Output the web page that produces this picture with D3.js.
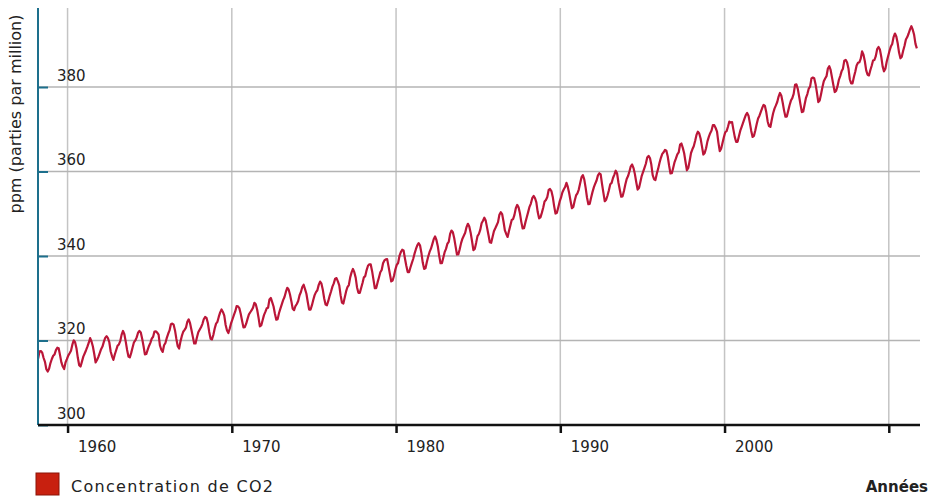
<!DOCTYPE html>
<html>
<head>
<meta charset="utf-8">
<script src="https://cdn.jsdelivr.net/npm/d3@7"></script>
<style>
  body { margin: 0; background: #fff; }
  svg text { font-family: "DejaVu Sans", Verdana, sans-serif; }
</style>
</head>
<body>
<svg id="chart" width="931" height="497"></svg>
<script>
// Mauna Loa monthly CO2 (ppm), March 1958 -> September 2011
const startYear = 1958;
const startMonth = 3;
const co2 = [
  315.71, 317.45, 317.50, 317.10, 315.86, 314.93, 313.20, 312.66, 313.33, 314.67,
  315.62, 316.38, 316.71, 317.72, 318.29, 318.15, 316.54, 314.80, 313.84, 313.26, 314.80, 315.58,
  316.43, 316.97, 317.58, 319.02, 320.03, 319.59, 318.18, 315.91, 314.16, 313.83, 315.00, 316.19,
  316.93, 317.70, 318.54, 319.48, 320.58, 319.77, 318.57, 316.79, 314.80, 315.38, 316.10, 317.01,
  317.94, 318.56, 319.68, 320.63, 321.01, 320.55, 319.58, 317.40, 316.26, 315.42, 316.69, 317.69,
  318.74, 319.08, 319.86, 321.39, 322.25, 321.47, 319.74, 317.77, 316.21, 315.99, 317.07, 318.35,
  319.57, 320.01, 320.74, 321.84, 322.26, 321.89, 320.44, 318.70, 316.70, 316.79, 317.79, 318.71,
  319.44, 320.44, 320.89, 322.13, 322.16, 321.87, 321.39, 318.81, 317.81, 317.30, 318.87, 319.42,
  320.62, 321.59, 322.39, 323.87, 324.01, 323.75, 322.39, 320.37, 318.64, 318.10, 319.79, 321.08,
  322.07, 322.50, 323.04, 324.42, 325.00, 324.09, 322.55, 320.92, 319.31, 319.31, 320.72, 321.96,
  322.57, 323.15, 323.89, 325.02, 325.57, 325.36, 324.14, 322.03, 320.41, 320.25, 321.31, 322.84,
  324.00, 324.42, 325.64, 326.66, 327.34, 326.76, 325.88, 323.67, 322.38, 321.78, 322.85, 324.11,
  325.03, 325.99, 326.87, 328.13, 328.07, 327.66, 326.35, 324.69, 323.10, 323.16, 323.98, 325.13,
  326.17, 326.68, 327.18, 327.78, 328.92, 328.57, 327.34, 325.46, 323.36, 323.57, 324.80, 326.01,
  326.77, 327.63, 327.75, 329.72, 330.07, 329.09, 328.05, 326.32, 324.93, 325.06, 326.50, 327.55,
  328.54, 329.56, 330.30, 331.50, 332.48, 332.07, 330.87, 329.31, 327.51, 327.18, 328.16, 328.64,
  329.35, 330.71, 331.48, 332.65, 333.20, 332.16, 331.07, 329.12, 327.32, 327.28, 328.30, 329.58,
  330.73, 331.46, 331.90, 333.17, 333.94, 333.45, 331.98, 329.95, 328.50, 328.34, 329.37, 330.58,
  331.59, 332.75, 333.52, 334.64, 334.77, 334.00, 333.06, 330.68, 328.95, 328.75, 330.15, 331.62,
  332.66, 333.13, 334.95, 336.13, 336.93, 336.17, 334.88, 332.56, 331.29, 331.27, 332.41, 333.60,
  334.95, 335.25, 336.66, 337.69, 338.03, 338.01, 336.41, 334.41, 332.37, 332.41, 333.75, 334.90,
  336.14, 336.69, 338.27, 338.95, 339.21, 339.26, 337.54, 335.75, 333.98, 334.19, 335.31, 336.81,
  337.90, 338.34, 340.01, 340.93, 341.48, 341.33, 339.40, 337.70, 336.19, 336.15, 337.27, 338.32,
  339.29, 340.55, 341.61, 342.53, 343.03, 342.54, 340.78, 338.44, 336.95, 337.08, 338.58, 339.88,
  340.96, 341.73, 342.81, 343.97, 344.63, 343.79, 342.32, 340.09, 338.28, 338.29, 339.60, 340.90,
  341.68, 342.90, 343.33, 345.25, 346.03, 345.63, 344.19, 342.27, 340.35, 340.38, 341.59, 343.05,
  344.10, 344.79, 345.52, 346.84, 347.63, 346.97, 345.53, 343.55, 341.40, 341.67, 343.10, 344.70,
  345.21, 346.16, 347.74, 348.34, 349.06, 348.38, 346.72, 345.02, 343.27, 343.13, 344.49, 345.88,
  346.56, 347.28, 348.01, 349.77, 350.38, 349.93, 348.16, 346.08, 345.22, 344.51, 345.93, 347.22,
  348.52, 348.73, 349.73, 351.31, 352.09, 351.53, 350.11, 348.08, 346.52, 346.59, 347.96, 349.16,
  350.39, 351.64, 352.41, 353.69, 354.21, 353.72, 352.69, 350.40, 348.92, 349.13, 350.20, 351.41,
  352.91, 353.27, 353.96, 355.64, 355.86, 355.37, 353.99, 351.81, 350.05, 350.25, 351.49, 352.85,
  353.80, 355.04, 355.73, 356.32, 357.32, 356.34, 354.84, 353.01, 351.31, 351.62, 353.07, 354.33,
  354.84, 355.73, 357.23, 358.66, 359.13, 358.13, 356.19, 353.85, 352.25, 352.35, 353.81, 355.12,
  356.25, 357.11, 357.86, 359.09, 359.59, 359.33, 357.01, 354.94, 352.96, 353.32, 354.32, 355.57,
  357.00, 357.31, 358.47, 359.27, 360.19, 359.52, 357.33, 355.64, 354.03, 354.12, 355.41, 356.91,
  358.24, 358.92, 359.99, 361.23, 361.65, 360.81, 359.38, 357.46, 355.73, 356.07, 357.53, 358.98,
  359.92, 360.86, 361.83, 363.30, 363.69, 363.19, 361.64, 359.12, 358.17, 357.99, 359.45, 360.68,
  362.07, 363.24, 364.17, 364.57, 365.13, 364.92, 363.55, 361.38, 359.54, 359.58, 360.89, 362.24,
  363.09, 364.03, 364.51, 366.35, 366.64, 365.59, 364.31, 362.25, 360.29, 360.82, 362.49, 364.38,
  365.26, 365.98, 367.24, 368.66, 369.42, 368.99, 367.82, 365.95, 364.02, 364.40, 365.52, 367.13,
  368.18, 369.07, 369.68, 370.99, 370.96, 370.30, 369.45, 366.90, 364.81, 365.37, 366.72, 368.10,
  369.29, 369.55, 370.60, 371.82, 371.58, 371.70, 369.86, 368.13, 367.00, 367.03, 368.37, 369.67,
  370.59, 371.51, 372.43, 373.37, 373.85, 373.22, 371.50, 369.61, 368.18, 368.45, 369.76, 371.24,
  372.53, 373.20, 374.12, 375.02, 375.76, 375.52, 374.01, 371.85, 370.75, 370.55, 372.25, 373.79,
  374.88, 375.64, 376.45, 377.73, 378.60, 377.93, 376.28, 374.41, 372.98, 373.00, 374.35, 375.69,
  376.79, 377.36, 378.39, 380.50, 380.62, 379.55, 377.76, 375.83, 374.05, 374.22, 375.84, 377.44,
  378.34, 379.61, 380.08, 382.05, 382.24, 382.08, 380.67, 378.67, 376.42, 376.80, 378.31, 379.96,
  381.37, 382.02, 382.56, 384.37, 384.92, 384.03, 382.28, 380.48, 378.81, 379.06, 380.14, 381.66,
  382.58, 383.71, 384.34, 386.23, 386.41, 385.87, 384.45, 381.84, 380.86, 380.86, 382.36, 383.61,
  385.07, 385.72, 385.85, 386.71, 388.45, 387.64, 386.10, 383.95, 382.91, 382.73, 383.96, 385.02,
  386.26, 386.39, 387.31, 388.95, 389.47, 388.87, 387.16, 384.88, 383.71, 384.33, 386.02, 387.29,
  388.52, 389.57, 390.16, 391.82, 392.66, 391.95, 390.36, 388.15, 386.80, 387.17, 388.58, 389.75,
  391.25, 391.82, 392.66, 393.62, 394.38, 393.57, 392.35, 390.21, 389.15
];

const yearTicks = [1960, 1970, 1980, 1990, 2000, 2010];
const yearLabels = ["1960", "1970", "1980", "1990", "2000", ""]; // 2010 has a tick but no label
const ppmTicks = [300, 320, 340, 360, 380];

const yLabel = "ppm (parties par million)";
const xLabel = "Années";
const seriesName = "Concentration de CO2";

// index -> decimal year (middle of the month)
const points = co2.map((v, i) => {
  const m = startMonth - 1 + i;
  return { t: startYear + Math.floor(m / 12) + ((m % 12) + 0.5) / 12, v: v };
});

const svg = d3.select("#chart");

// plot area edges
const plotL = 38, plotR = 920, plotT = 8, plotB = 425;

const x = d3.scaleLinear().domain([1958.2, 2011.9]).range([plotL, plotR]);
const y = d3.scaleLinear().domain([300, 398.7]).range([plotB, plotT]);

// grid
svg.append("g").selectAll("line")
  .data(yearTicks).enter().append("line")
  .attr("x1", d => x(d)).attr("x2", d => x(d))
  .attr("y1", plotT).attr("y2", plotB)
  .attr("stroke", "#c4c4c4").attr("stroke-width", 1.5);

svg.append("g").selectAll("line")
  .data(ppmTicks.filter(d => d > 300)).enter().append("line")
  .attr("x1", plotL).attr("x2", plotR)
  .attr("y1", d => y(d)).attr("y2", d => y(d))
  .attr("stroke", "#b4b4b4").attr("stroke-width", 1.5);

// data line
const line = d3.line().x(d => x(d.t)).y(d => y(d.v));
svg.append("path")
  .datum(points)
  .attr("d", line)
  .attr("fill", "none")
  .attr("stroke", "#bb1638")
  .attr("stroke-width", 2.2)
  .attr("stroke-linejoin", "round");

// y axis
const yAxis = svg.append("g")
  .attr("transform", "translate(" + plotL + ",0)")
  .call(d3.axisRight(y).tickValues(ppmTicks).tickSize(10).tickFormat(d3.format("d")));
yAxis.select(".domain").attr("stroke", "#1d6f8c").attr("stroke-width", 2)
  .attr("d", "M0," + plotT + "V" + plotB);
yAxis.selectAll(".tick line").attr("stroke", "#1d6f8c").attr("stroke-width", 2);
yAxis.selectAll(".tick text")
  .attr("x", 19).attr("dy", "-0.45em")
  .attr("fill", "#222").style("font-size", "15px");

// x axis
const xAxis = svg.append("g")
  .attr("transform", "translate(0," + plotB + ")")
  .call(d3.axisBottom(x).tickValues(yearTicks).tickSize(8)
    .tickFormat((d, i) => yearLabels[i]));
xAxis.select(".domain").attr("stroke", "#111").attr("stroke-width", 2.5)
  .attr("d", "M" + plotL + ",0H" + plotR);
xAxis.selectAll(".tick line").attr("stroke", "#111").attr("stroke-width", 2.5);
xAxis.selectAll(".tick text")
  .attr("x", 10).attr("y", 27).attr("dy", 0)
  .attr("text-anchor", "start")
  .attr("fill", "#222").style("font-size", "15px");

// axis titles
svg.append("text")
  .attr("transform", "translate(21,114) rotate(-90)")
  .attr("text-anchor", "middle")
  .attr("fill", "#222")
  .style("font-size", "16px")
  .text(yLabel);

svg.append("text")
  .attr("x", 928).attr("y", 492)
  .attr("text-anchor", "end")
  .attr("fill", "#222")
  .style("font-size", "15px")
  .style("font-weight", "bold")
  .text(xLabel);

// legend
svg.append("rect")
  .attr("x", 36).attr("y", 473).attr("width", 23).attr("height", 22)
  .attr("fill", "#c8200f").attr("stroke", "#8c1408").attr("stroke-width", 1);
svg.append("text")
  .attr("x", 71).attr("y", 492)
  .attr("fill", "#222")
  .style("font-size", "16px")
  .style("letter-spacing", "1.3px")
  .text(seriesName);
</script>
</body>
</html>
